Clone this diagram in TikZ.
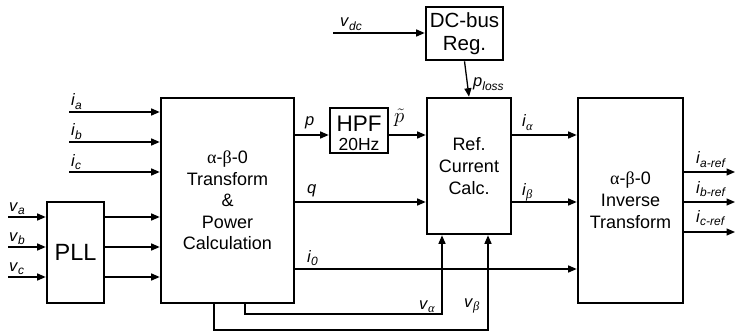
\documentclass[tikz,border=0pt]{standalone}
\usepackage{fontspec}
\setmainfont{Liberation Sans}
\newfontfamily\grk{Liberation Serif}
\usetikzlibrary{arrows.meta,calc}
\newcommand\lab[2]{\textit{#1}\raisebox{-3.4pt}{\fontsize{12}{12}\selectfont\textit{#2}}}
\newcommand\glab[2]{\textit{#1}\raisebox{-3.4pt}{\fontsize{12.5}{12}\selectfont\grk\itshape #2}}
\begin{document}
\begin{tikzpicture}[x=1pt,y=-1pt,
  blk/.style={draw,line width=2.6pt,rectangle,inner sep=0pt,align=center},
  arr/.style={line width=1.3pt,-{Triangle[length=8.5pt,width=7pt]}},
  ln/.style={line width=1.3pt},
  lbl/.style={anchor=base west,inner sep=0pt,font=\fontsize{16.5}{16.5}\selectfont}]
\useasboundingbox (0,0) rectangle (735,331);
% blocks
\node[blk,minimum width=133pt,minimum height=205pt,font=\fontsize{18}{21.5}\selectfont] (main) at (227.5,200.5)
  {{\grk α}-{\grk β}-0\\Transform\\\&\\Power\\Calculation};
\node[blk,minimum width=57pt,minimum height=101pt,font=\fontsize{23.5}{24}\selectfont] (pll) at (75.5,252.5) {PLL};
\node[blk,minimum width=58pt,minimum height=45pt] (hpf) at (359,130.5) {};
\node[inner sep=0pt,anchor=base,font=\fontsize{22.5}{22.5}\selectfont] (hpft) at (359,132) {HPF};
\node[inner sep=0pt,anchor=base,font=\fontsize{17.5}{17.5}\selectfont] (hpfb) at (359,150) {20Hz};
\node[blk,minimum width=84pt,minimum height=136pt,font=\fontsize{18}{21.8}\selectfont] (ref) at (469,166)
  {Ref.\\Current\\Calc.};
\node[blk,minimum width=77pt,minimum height=53pt,font=\fontsize{20.5}{22.5}\selectfont] (dc) at (464.5,33.5)
  {DC-bus\\Reg.};
\node[blk,minimum width=105pt,minimum height=205pt,font=\fontsize{18}{21.8}\selectfont] (inv) at (630.5,200.5)
  {{\grk α}-{\grk β}-0\\Inverse\\Transform};
% input coordinates
\coordinate (ia) at (69,112);
\coordinate (ib) at (69,142);
\coordinate (ic) at (69,172);
\coordinate (va) at (8,217);
\coordinate (vb) at (8,247);
\coordinate (vc) at (8,277);
\coordinate (vdc) at (333,33);
\coordinate (oa) at (735,172);
\coordinate (ob) at (735,202);
\coordinate (oc) at (735,232);
\coordinate (yp) at (0,135);
\coordinate (yq) at (0,202);
\coordinate (y0) at (0,269);
\coordinate (xva) at (245,314);
\coordinate (xvb) at (214,330);
\coordinate (xra) at (442,0);
\coordinate (xrb) at (488,0);
% connectors
\draw[arr] (ia) -- (ia -| main.west);
\draw[arr] (ib) -- (ib -| main.west);
\draw[arr] (ic) -- (ic -| main.west);
\draw[arr] (va) -- (va -| pll.west);
\draw[arr] (vb) -- (vb -| pll.west);
\draw[arr] (vc) -- (vc -| pll.west);
\draw[arr] (va -| pll.east) -- (va -| main.west);
\draw[arr] (vb -| pll.east) -- (vb -| main.west);
\draw[arr] (vc -| pll.east) -- (vc -| main.west);
\draw[arr] (yp -| main.east) -- (yp -| hpf.west);
\draw[arr] (yp -| hpf.east) -- (yp -| ref.west);
\draw[arr] (yq -| main.east) -- (yq -| ref.west);
\draw[arr] (y0 -| main.east) -- (y0 -| inv.west);
\draw[arr] (yp -| ref.east) -- (yp -| inv.west);
\draw[arr] (yq -| ref.east) -- (yq -| inv.west);
\draw[arr] (vdc) -- (vdc -| dc.west);
\draw[arr] (dc.south) -- (ref.north);
\draw[arr] (oa -| inv.east) -- (oa);
\draw[arr] (ob -| inv.east) -- (ob);
\draw[arr] (oc -| inv.east) -- (oc);
\draw[arr] (xva |- main.south) -- (xva) -- (xva -| xra) -- (xra |- ref.south);
\draw[arr] (xvb |- main.south) -- (xvb) -- (xvb -| xrb) -- (xrb |- ref.south);
% labels
\node[lbl] (lia) at (71,106) {\lab{i}{a}};
\node[lbl] (lib) at (71,136) {\lab{i}{b}};
\node[lbl] (lic) at (71,166) {\lab{i}{c}};
\node[lbl] (lva) at (9,211) {\lab{v}{a}};
\node[lbl] (lvb) at (9,241) {\lab{v}{b}};
\node[lbl] (lvc) at (9,271) {\lab{v}{c}};
\node[lbl] (lp) at (305,126) {\textit{p}};
\node[lbl,font=\fontsize{20}{20}\selectfont] (lpt) at (394,123) {$\tilde{p}$};
\node[lbl] (lq) at (307,193) {\textit{q}};
\node[lbl] (li0) at (307,262) {\lab{i}{0}};
\node[lbl] (lialpha) at (522,127) {\glab{i}{α}};
\node[lbl] (libeta) at (522,195) {\glab{i}{β}};
\node[lbl] (loa) at (696,164) {\lab{i}{a-ref}};
\node[lbl] (lob) at (696,193) {\lab{i}{b-ref}};
\node[lbl] (loc) at (696,222) {\lab{i}{c-ref}};
\node[lbl] (lvalpha) at (419,309) {\glab{v}{α}};
\node[lbl] (lvbeta) at (464,307) {\glab{v}{β}};
\node[lbl] (lvdc) at (340,27) {\lab{v}{dc}};
\node[lbl] (lploss) at (473,87) {\lab{p}{loss}};
\end{tikzpicture}
\end{document}
